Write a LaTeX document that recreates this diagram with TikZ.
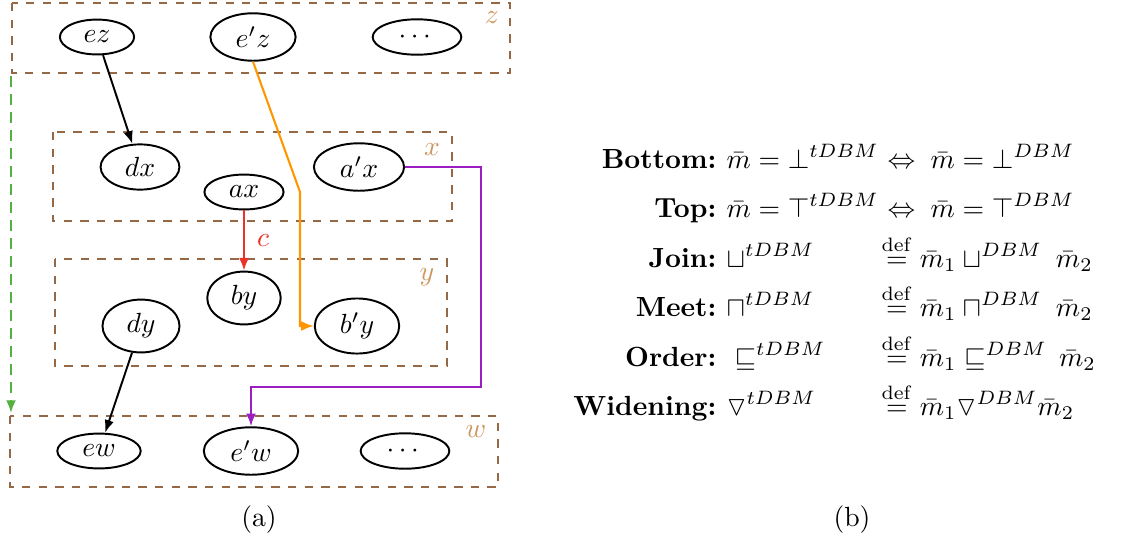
\documentclass[tikz,border=0pt]{standalone}
\usepackage{amsmath,amssymb}
\usetikzlibrary{shapes.geometric,arrows.meta}
\definecolor{grpc}{RGB}{150,105,70}
\definecolor{lblc}{RGB}{205,150,95}
\definecolor{grn}{RGB}{85,175,65}
\definecolor{rd}{RGB}{235,50,40}
\definecolor{org}{RGB}{255,150,0}
\definecolor{pur}{RGB}{155,30,195}
\tikzset{
  el/.style={ellipse,draw,line width=0.7pt,inner xsep=4.6pt,inner ysep=2.3pt},
  grp/.style={draw=grpc,dashed,line width=0.4pt,dash pattern=on 3pt off 3pt},
  grplbl/.style={text=lblc,font=\normalsize},
  blk/.style={line width=0.7pt,-{Latex[length=4.6pt,width=3.4pt]}},
  col/.style={line width=0.75pt,-{Latex[length=4.6pt,width=3.6pt]}},
  lab/.style={anchor=base east,font=\bfseries,inner sep=0pt},
  mid/.style={anchor=base west,inner sep=0pt},
}
\begin{document}
\begin{tikzpicture}[x=0.361pt,y=-0.361pt]
\useasboundingbox (0,0) rectangle (1135,542);
% group boxes
\draw[grp] (12,3) rectangle (510,73);
\draw[grp] (53,132) rectangle (452,221);
\draw[grp] (55,259) rectangle (447,366);
\draw[grp] (10,416) rectangle (498,487);
\node[grplbl] (lz) at (492,18) {$z$};
\node[grplbl] (lx) at (432,150) {$x$};
\node[grplbl] (ly) at (427,277) {$y$};
\node[grplbl] (lw) at (476,432) {$w$};
% nodes
\node[el] (ez) at (97,37) {$ez$};
\node[el] (epz) at (253,37) {$e'z$};
\node[el,minimum width=32pt] (dz) at (417,37) {$\cdots$};
\node[el] (dx) at (140,167) {$dx$};
\node[el] (ax) at (244,192) {$ax$};
\node[el] (apx) at (359,167) {$a'x$};
\node[el] (by) at (244,298) {$by$};
\node[el] (dy) at (141,326) {$dy$};
\node[el] (bpy) at (357,326) {$b'y$};
\node[el] (ew) at (99,451) {$ew$};
\node[el] (epw) at (251,451) {$e'w$};
\node[el,minimum width=32pt] (dw) at (405,451) {$\cdots$};
% connectors
\coordinate (gs) at (11,76);
\coordinate (ge) at (11,413);
\draw[col,grn,dashed,dash pattern=on 4pt off 2.5pt] (gs) -- (ge);
\draw[blk] (ez) -- (dx);
\draw[blk] (dy) -- (ew);
\draw[col,rd] (ax) -- node[right=1pt,text=rd] (lc) {$c$} (by);
\coordinate (ob) at (300,192);
\draw[col,org] (epz.south) -- (ob) |- (bpy.west);
\coordinate (pb) at (481,387);
\draw[col,pur] (apx.east) -| (pb) -| (epw.north);
% right part
\node[lab] (l1) at (717,168) {Bottom:};
\node[mid] (m1) at (726,168) {$\bar m = \bot^{tDBM}$};
\node[mid] (r1) at (887,168) {$\Leftrightarrow\;\bar m = \bot^{DBM}$};
\node[lab] (l2) at (717,217) {Top:};
\node[mid] (m2) at (726,217) {$\bar m = \top^{tDBM}$};
\node[mid] (r2) at (887,217) {$\Leftrightarrow\;\bar m = \top^{DBM}$};
\node[lab] (l3) at (717,267) {Join:};
\node[mid] (m3) at (726,267) {$\sqcup^{tDBM}$};
\node[mid] (r3) at (881,267) {$\stackrel{\mathrm{def}}{=} \bar m_1 \sqcup^{DBM}\;\bar m_2$};
\node[lab] (l4) at (717,316) {Meet:};
\node[mid] (m4) at (726,316) {$\sqcap^{tDBM}$};
\node[mid] (r4) at (881,316) {$\stackrel{\mathrm{def}}{=} \bar m_1 \sqcap^{DBM}\;\bar m_2$};
\node[lab] (l5) at (717,366) {Order:};
\node[mid] (m5) at (734,366) {$\sqsubseteq^{tDBM}$};
\node[mid] (r5) at (881,366) {$\stackrel{\mathrm{def}}{=} \bar m_1 \sqsubseteq^{DBM}\,\bar m_2$};
\node[lab] (l6) at (717,415) {Widening:};
\node[mid] (m6) at (726,415) {$\triangledown^{tDBM}$};
\node[mid] (r6) at (881,415) {$\stackrel{\mathrm{def}}{=} \bar m_1 \triangledown^{DBM}\bar m_2$};
% captions
\node (ca) at (259,520) {(a)};
\node (cb) at (852,520) {(b)};
\end{tikzpicture}
\end{document}
